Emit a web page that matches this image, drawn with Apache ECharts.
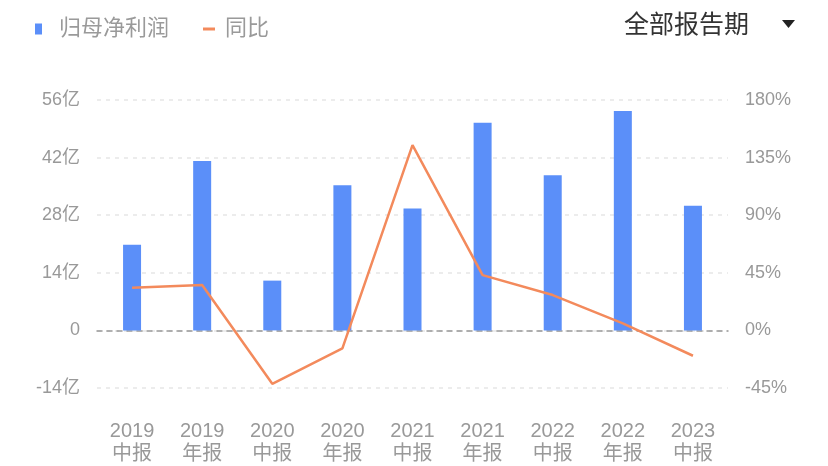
<!DOCTYPE html>
<html>
<head>
<meta charset="utf-8">
<style>
  html, body { margin: 0; padding: 0; background: #fff; }
  #chart { width: 828px; height: 466px; }
</style>
<script src="https://cdn.jsdelivr.net/npm/echarts@6/dist/echarts.min.js"></script>
</head>
<body>
<div id="chart"></div>
<script>
  // 报告期
  var years = ['2019', '2019', '2020', '2020', '2021', '2021', '2022', '2022', '2023']
  var periods = ['中报', '年报', '中报', '年报', '中报', '年报', '中报', '年报', '中报']
  // 归母净利润 (亿)
  var netProfit = [20.8, 41.2, 12.1, 35.3, 29.6, 50.5, 37.7, 53.3, 30.3]
  // 同比 (%)
  var yoy = [33.3, 35.4, -41.7, -14.1, 144.8, 43.2, 27.6, 5.5, -19.8]
  // 轴刻度
  var leftTicks = { min: -14, max: 56, interval: 14 }
  var rightTicks = { min: -45, max: 180, interval: 45 }

  var categories = years.map(function (y, i) { return y + '\n' + periods[i] })
  var font = "'Liberation Sans', 'Noto Sans CJK SC', sans-serif"
  var barColor = '#5B8FF9'
  var lineColor = '#F38A5C'

  var chart = echarts.init(document.getElementById('chart'))
  chart.setOption({
    animation: false,
    textStyle: { fontFamily: font },
    legend: [
      {
        left: 30,
        top: 13,
        data: [{ name: '归母净利润', icon: 'rect' }],
        itemWidth: 7,
        itemHeight: 11,
        textStyle: { color: '#9a9a9a', fontSize: 22, fontFamily: font, padding: [0, 0, 0, 12] }
      },
      {
        left: 198,
        top: 13,
        data: [{ name: '同比', icon: 'rect' }],
        itemWidth: 12,
        itemHeight: 3,
        textStyle: { color: '#9a9a9a', fontSize: 22, fontFamily: font, padding: [0, 0, 0, 5] }
      }
    ],
    graphic: [
      {
        type: 'text',
        left: 624,
        top: 14,
        style: { text: '全部报告期', fill: '#333', fontSize: 25, fontFamily: font }
      },
      {
        type: 'polygon',
        shape: { points: [[782, 20], [795, 20], [788.5, 28]] },
        style: { fill: '#222' }
      }
    ],
    grid: { left: 97, right: 100, top: 100, bottom: 78 },
    xAxis: {
      type: 'category',
      data: categories,
      axisTick: { show: false },
      axisLine: {
        show: true,
        onZero: true,
        lineStyle: { color: '#999', width: 1.5, type: [5, 5] }
      },
      axisLabel: {
        color: '#999',
        fontSize: 20,
        lineHeight: 23,
        margin: 32,
        fontFamily: font
      }
    },
    yAxis: [
      {
        type: 'value',
        min: leftTicks.min,
        max: leftTicks.max,
        interval: leftTicks.interval,
        axisLine: { show: false },
        axisTick: { show: false },
        axisLabel: {
          color: '#999',
          fontSize: 18,
          margin: 17,
          fontFamily: font,
          formatter: function (v) { return v === 0 ? '0' : v + '亿' }
        },
        splitLine: { lineStyle: { color: '#e6e6e6', width: 1.5, type: [4, 5] } }
      },
      {
        type: 'value',
        min: rightTicks.min,
        max: rightTicks.max,
        interval: rightTicks.interval,
        axisLine: { show: false },
        axisTick: { show: false },
        axisLabel: {
          color: '#999',
          fontSize: 18,
          margin: 17,
          fontFamily: font,
          formatter: '{value}%'
        },
        splitLine: { show: false }
      }
    ],
    series: [
      {
        name: '归母净利润',
        type: 'bar',
        data: netProfit,
        barWidth: 18,
        itemStyle: { color: barColor }
      },
      {
        name: '同比',
        type: 'line',
        yAxisIndex: 1,
        data: yoy,
        symbol: 'none',
        lineStyle: { color: lineColor, width: 2.5 },
        itemStyle: { color: lineColor }
      }
    ]
  })
</script>
</body>
</html>
